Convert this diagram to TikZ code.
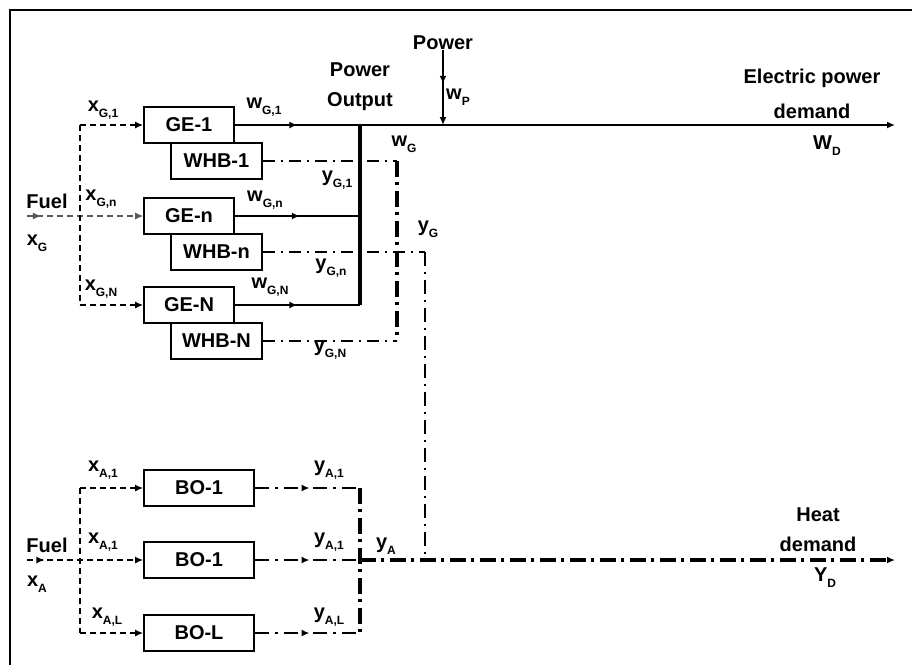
\documentclass[tikz,border=0pt]{standalone}
\usepackage{fontspec}
\setmainfont{Liberation Sans}
\usetikzlibrary{arrows.meta,decorations.markings}

\newcommand{\sv}[2]{#1\raisebox{-0.55ex}{\fontsize{12}{12}\selectfont #2}}

\tikzset{
  unit/.style={draw,line width=1.6pt,minimum height=36pt,inner sep=0pt,
    font=\bfseries\fontsize{20}{22}\selectfont},
  lab/.style={inner sep=0pt,align=center,font=\bfseries\fontsize{20}{30}\selectfont},
  fuel/.style={line width=1.6pt,dash pattern=on 6pt off 4pt},
  power/.style={line width=2pt},
  whb/.style={line width=1.8pt,dash pattern=on 12pt off 6pt on 2pt off 6pt},
  heat/.style={line width=2.2pt,dash pattern=on 14pt off 6pt on 3pt off 6pt},
  collect/.style={line width=3.2pt,dash pattern=on 16pt off 5pt on 3pt off 6pt},
  midarrow/.style={postaction={decorate},decoration={markings,
    mark=at position #1 with {\arrow{Latex[length=8pt,width=7pt]}}}}
}

\begin{document}
\begin{tikzpicture}[x=1pt,y=-1pt,>={Latex[length=8pt,width=7pt]}]
\useasboundingbox (0,0) rectangle (912,665);

% frame
\draw[line width=2pt] (10,665) -- (10,10) -- (912,10);

% gas engines and waste heat boilers
\node[unit,minimum width=90pt] (GE1) at (189,125) {GE-1};
\node[unit,minimum width=91pt] (WHB1) at (216.5,161) {WHB-1};
\node[unit,minimum width=90pt] (GEn) at (189,216) {GE-n};
\node[unit,minimum width=91pt] (WHBn) at (216.5,252) {WHB-n};
\node[unit,minimum width=90pt] (GEN) at (189,305) {GE-N};
\node[unit,minimum width=91pt] (WHBN) at (216.5,341) {WHB-N};

% boilers
\node[unit,minimum width=110pt] (BO1) at (199,488) {BO-1};
\node[unit,minimum width=110pt] (BO2) at (199,560) {BO-1};
\node[unit,minimum width=110pt] (BOL) at (199,633) {BO-L};

\coordinate (fG) at (27,216);
\coordinate (jG1) at (80,125);
\coordinate (jGN) at (80,305);
\coordinate (fA) at (27,560);
\coordinate (jA1) at (80,488);
\coordinate (jAL) at (80,633);
\coordinate (bT) at (360,125);
\coordinate (bB) at (360,305);
\coordinate (WD) at (895,125);
\coordinate (pIn) at (443,125);
\coordinate (cG) at (397,0);
\coordinate (cGn) at (425,0);
\coordinate (hT) at (360,488);
\coordinate (hB) at (360,633);
\coordinate (hJ) at (425,560);
\coordinate (YD) at (895,560);

% fuel to gas engines
\draw[fuel,black!65,line width=1.2pt,->,midarrow=0.12] (fG) -- (GEn.west);
\draw[fuel] (jG1) -- (jGN);
\draw[fuel,->] (jG1) -- (GE1.west);
\draw[fuel,->] (jGN) -- (GEN.west);

% power output
\draw[power,midarrow=0.5] (GE1.east) -- (bT);
\draw[power,->] (bT) -- (WD);
\draw[power,line width=1.6pt,midarrow=0.52] (GEn.east) -- (GEn.east -| bT);
\draw[power,line width=1.6pt,midarrow=0.5] (GEN.east) -- (GEN.east -| bT);
\draw[line width=3.2pt] (bT) -- (bB);
\node[lab] (pw) at (443,43) {Power};
\draw[power,->,midarrow=0.45] (pw.south) -- (pIn);

% heat from waste heat boilers
\draw[whb] (WHB1.east) -- (WHB1.east -| cG);
\draw[whb] (WHBn.east) -- (WHBn.east -| cGn);
\draw[whb] (WHBN.east) -- (WHBN.east -| cG);
\draw[collect] (WHB1.east -| cG) -- (WHBN.east -| cG);
\draw[line width=1.1pt,dash pattern=on 14pt off 6pt on 2pt off 6pt] (WHBn.east -| cGn) -- (hJ);

% fuel to boilers
\draw[fuel,line width=2pt,->,midarrow=0.15] (fA) -- (BO2.west);
\draw[fuel] (jA1) -- (jAL);
\draw[fuel,->] (jA1) -- (BO1.west);
\draw[fuel,->] (jAL) -- (BOL.west);

% heat from boilers
\draw[heat,midarrow=0.52] (BO1.east) -- (BO1.east -| hT);
\draw[heat,midarrow=0.52] (BO2.east) -- (BO2.east -| hT);
\draw[heat,midarrow=0.52] (BOL.east) -- (BOL.east -| hT);
\draw[collect] (hT) -- (hB);
\draw[collect,->] (BO2.east -| hT) -- (YD);

% labels
\node[lab] (lfG) at (47,201) {Fuel};
\node[lab] (lxG) at (37,243) {\sv{x}{G}};
\node[lab] (lxG1) at (103,110) {\sv{x}{G,1}};
\node[lab] (lxGn) at (101,199) {\sv{x}{G,n}};
\node[lab] (lxGN) at (101,289) {\sv{x}{G,N}};
\node[lab] (lwG1) at (264,107) {\sv{w}{G,1}};
\node[lab] (lwGn) at (265,200) {\sv{w}{G,n}};
\node[lab] (lwGN) at (270,287) {\sv{w}{G,N}};
\node[lab] (lyG1) at (337,180) {\sv{y}{G,1}};
\node[lab] (lyGn) at (331,268) {\sv{y}{G,n}};
\node[lab] (lyGN) at (330,350) {\sv{y}{G,N}};
\node[lab] (lpo) at (360,87) {Power\\Output};
\node[lab] (lwP) at (458,97) {\sv{w}{P}};
\node[lab] (lwG) at (404,144) {\sv{w}{G}};
\node[lab] (lyG) at (428,229) {\sv{y}{G}};
\node[lab] (lel) at (812,94) {Electric power\\[5pt]demand};
\node[lab] (lWD) at (827,146) {\sv{W}{D}};

\node[lab] (lfA) at (47,545) {Fuel};
\node[lab] (lxA) at (37,584) {\sv{x}{A}};
\node[lab] (lxA1) at (103,470) {\sv{x}{A,1}};
\node[lab] (lxA2) at (103,542) {\sv{x}{A,1}};
\node[lab] (lxAL) at (107,617) {\sv{x}{A,L}};
\node[lab] (lyA1) at (329,470) {\sv{y}{A,1}};
\node[lab] (lyA2) at (329,542) {\sv{y}{A,1}};
\node[lab] (lyAL) at (329,617) {\sv{y}{A,L}};
\node[lab] (lyA) at (386,546) {\sv{y}{A}};
\node[lab] (lheat) at (818,530) {Heat\\demand};
\node[lab] (lYD) at (825,578) {\sv{Y}{D}};
\end{tikzpicture}
\end{document}
